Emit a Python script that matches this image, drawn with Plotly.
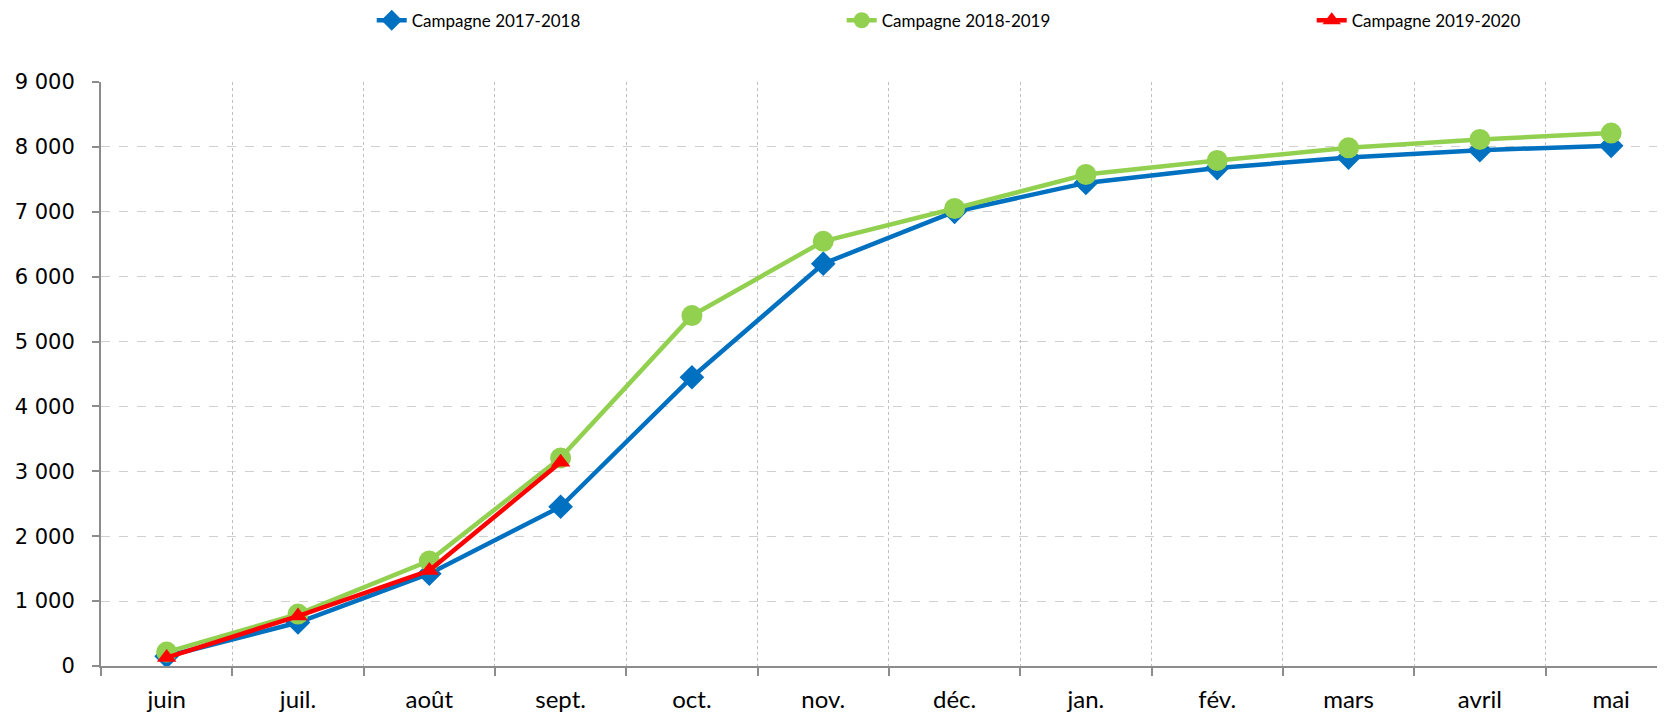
import plotly.graph_objects as go

months = ["juin", "juil.", "août", "sept.", "oct.", "nov.", "déc.", "jan.", "fév.", "mars", "avril", "mai"]
c2017 = [150, 670, 1423, 2454, 4450, 6200, 7000, 7445, 7673, 7836, 7950, 8017]
c2018 = [215, 800, 1620, 3207, 5400, 6545, 7050, 7575, 7790, 7985, 8115, 8213]
c2019 = [130, 770, 1470, 3140]
names = ["Campagne 2017-2018", "Campagne 2018-2019", "Campagne 2019-2020"]

fig = go.Figure()
fig.add_trace(go.Scatter(x=months, y=c2017, name=names[0], mode="lines+markers",
                         line=dict(color="#0070C0", width=4.5),
                         marker=dict(symbol="diamond", size=19, color="#0070C0")))
fig.add_trace(go.Scatter(x=months, y=c2018, name=names[1], mode="lines+markers",
                         line=dict(color="#92D050", width=4.5),
                         marker=dict(symbol="circle", size=21, color="#92D050")))
fig.add_trace(go.Scatter(x=months[:len(c2019)], y=c2019, name=names[2], mode="lines+markers",
                         line=dict(color="#FF0000", width=4.5),
                         marker=dict(symbol="triangle-up", size=17, color="#FF0000")))

fig.update_layout(
    width=1657, height=706,
    margin=dict(l=93, r=0, t=74, b=48, autoexpand=False),
    paper_bgcolor="white", plot_bgcolor="white",
    separators=", ",
    showlegend=True,
    legend=dict(orientation="h", xref="container", x=0.2195, xanchor="left",
                yref="container", y=0.982, yanchor="middle",
                entrywidth=425, entrywidthmode="pixels",
                font=dict(family="Lato", size=17, color="black"),
                itemwidth=30),
    xaxis=dict(type="category", range=[-0.5, 11.41], tickson="boundaries",
               showgrid=True, gridcolor="#c0c0c0", griddash="dot", gridwidth=1,
               showline=True, linecolor="#8c8c8c", linewidth=2,
               ticks="outside", ticklen=8, tickcolor="#8c8c8c", tickwidth=2,
               tickfont=dict(family="Lato", size=24, color="black"),
               ticklabelstandoff=11),
    yaxis=dict(range=[0, 9000], tickvals=list(range(0, 9001, 1000)), tickformat=",d",
               showgrid=True, gridcolor="#d0d0d0", griddash="dash", gridwidth=1,
               showline=True, linecolor="#8c8c8c", linewidth=2,
               ticks="outside", ticklen=7, tickcolor="#8c8c8c", tickwidth=2,
               tickfont=dict(family="DejaVu Sans", size=21, color="black"),
               ticklabelstandoff=13,
               zeroline=False),
)

fig.write_html("out.html")
